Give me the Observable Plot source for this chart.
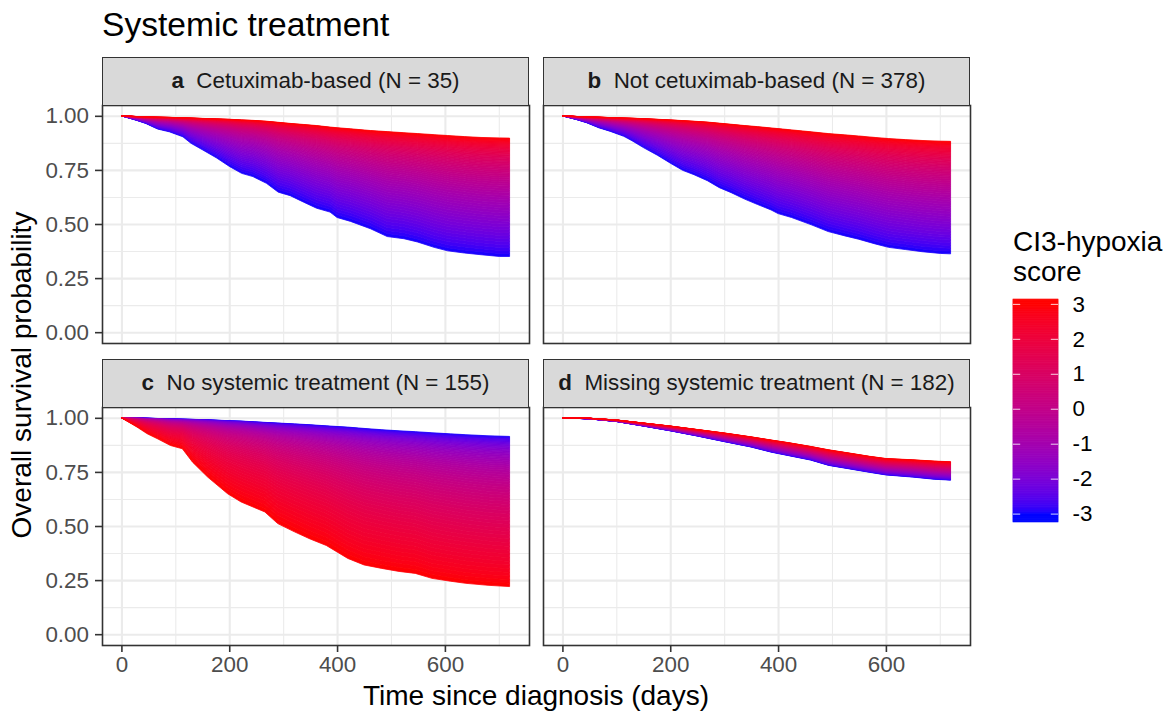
<!DOCTYPE html>
<html>
<head>
<meta charset="utf-8">
<script src="https://cdn.jsdelivr.net/npm/d3@7"></script>
<script src="https://cdn.jsdelivr.net/npm/@observablehq/plot@0.6"></script>
<style>
  body { margin: 0; background: #fff; font-family: "Liberation Sans", Arial, sans-serif; }
  #wrap { position: relative; width: 1170px; height: 716px; overflow: hidden; background: #fff; }
  .abs { position: absolute; white-space: pre; line-height: 1; }
  .strip { position: absolute; box-sizing: border-box; background: #D9D9D9; border: 1.6px solid #333333;
           display: flex; align-items: center; justify-content: center; font-size: 22.4px; color: #1A1A1A; white-space: pre; }
  svg g[aria-label="x-axis tick label"], svg g[aria-label="y-axis tick label"] { fill: #4D4D4D; }
</style>
</head>
<body>
<div id="wrap"></div>
<script>
// ---------------- data ----------------
const panelKeys   = ["a", "b", "c", "d"];
const panelNames  = ["Cetuximab-based", "Not cetuximab-based", "No systemic treatment", "Missing systemic treatment"];
const panelN      = [35, 378, 155, 182];
const panelCol    = [0, 1, 0, 1];
const panelRow    = [0, 0, 1, 1];
// score of the curve forming the upper edge of each fan (the lower edge has the opposite score)
const topScore    = [3, 3, -3, 3];

const aTime  = [0, 27, 45, 67, 89, 114, 129, 151, 176, 201, 223, 244, 269, 291, 313, 338, 362, 387, 400, 425, 462, 493, 524, 549, 580, 605, 636, 667, 701, 720];
const aLower = [1.000, 0.980, 0.965, 0.939, 0.926, 0.903, 0.873, 0.842, 0.806, 0.765, 0.734, 0.719, 0.688, 0.647, 0.631, 0.601, 0.573, 0.555, 0.530, 0.512, 0.478, 0.442, 0.432, 0.417, 0.392, 0.376, 0.366, 0.358, 0.350, 0.350];
const aUpper = [1.000, 0.997, 0.995, 0.994, 0.993, 0.991, 0.990, 0.988, 0.986, 0.984, 0.981, 0.979, 0.975, 0.970, 0.965, 0.960, 0.955, 0.948, 0.945, 0.940, 0.932, 0.927, 0.922, 0.918, 0.913, 0.909, 0.904, 0.900, 0.898, 0.897];

const bTime  = [0, 27, 45, 67, 89, 114, 129, 151, 176, 201, 223, 244, 269, 291, 313, 338, 362, 387, 400, 425, 462, 493, 524, 549, 580, 605, 636, 667, 701, 720];
const bLower = [1.000, 0.982, 0.968, 0.945, 0.928, 0.905, 0.885, 0.852, 0.818, 0.780, 0.748, 0.728, 0.700, 0.668, 0.645, 0.615, 0.590, 0.565, 0.548, 0.530, 0.496, 0.465, 0.445, 0.430, 0.408, 0.392, 0.382, 0.372, 0.364, 0.362];
const bUpper = [1.000, 0.997, 0.995, 0.994, 0.992, 0.990, 0.989, 0.987, 0.984, 0.981, 0.978, 0.975, 0.971, 0.966, 0.961, 0.955, 0.950, 0.944, 0.941, 0.935, 0.926, 0.918, 0.912, 0.907, 0.900, 0.895, 0.890, 0.886, 0.883, 0.882];

const cTime  = [0, 29, 48, 67, 91, 113, 132, 160, 197, 222, 266, 290, 321, 350, 380, 400, 420, 450, 483, 515, 545, 576, 610, 639, 680, 720];
const cLower = [1.000, 0.957, 0.926, 0.903, 0.872, 0.857, 0.795, 0.726, 0.649, 0.611, 0.565, 0.511, 0.473, 0.440, 0.410, 0.380, 0.350, 0.320, 0.304, 0.290, 0.281, 0.258, 0.245, 0.235, 0.226, 0.220];
const cUpper = [1.000, 0.999, 0.998, 0.997, 0.995, 0.994, 0.993, 0.991, 0.987, 0.985, 0.979, 0.976, 0.972, 0.968, 0.963, 0.960, 0.957, 0.951, 0.945, 0.940, 0.936, 0.931, 0.926, 0.922, 0.917, 0.914];

const dTime  = [0, 50, 100, 150, 200, 250, 300, 350, 388, 420, 460, 494, 530, 570, 600, 650, 690, 720];
const dLower = [1.000, 0.995, 0.983, 0.962, 0.940, 0.916, 0.890, 0.865, 0.841, 0.825, 0.805, 0.780, 0.765, 0.748, 0.736, 0.726, 0.716, 0.712];
const dUpper = [1.000, 0.998, 0.990, 0.976, 0.962, 0.946, 0.930, 0.912, 0.897, 0.885, 0.868, 0.852, 0.838, 0.822, 0.812, 0.806, 0.800, 0.797];

const xTicks = [0, 200, 400, 600];
const xMinor = [100, 300, 500, 700];
const yTicks = [0, 0.25, 0.5, 0.75, 1];
const yMinor = [0.125, 0.375, 0.625, 0.875];
const scoreTicks = [3, 2, 1, 0, -1, -2, -3];

const curves = [
  {time: aTime, lower: aLower, upper: aUpper},
  {time: bTime, lower: bLower, upper: bUpper},
  {time: cTime, lower: cLower, upper: cUpper},
  {time: dTime, lower: dLower, upper: dUpper}
];

// ---------------- colour fill of each fan ----------------
// The fan is shaded by score between its two edge curves (proportional-hazards spacing).
const nBands = 60;
function curveAt(lo, hi, loScore, hiScore, s) {
  const w = (s - loScore) / (hiScore - loScore);
  const Hlo = Math.max(-Math.log(lo), 1e-9), Hhi = Math.max(-Math.log(hi), 1e-9);
  return Math.exp(-Math.pow(Hlo, 1 - w) * Math.pow(Hhi, w));
}
const bands = [];
curves.forEach((c, i) => {
  const hiS = topScore[i], loS = -hiS;
  for (let k = 0; k < nBands; k++) {
    const s0 = -3 + 6 * k / nBands, s1 = -3 + 6 * (k + 1) / nBands;
    c.time.forEach((t, j) => {
      bands.push({
        col: panelCol[i], row: panelRow[i], band: i * 1000 + k, t,
        score: (s0 + s1) / 2,
        y1: curveAt(c.lower[j], c.upper[j], loS, hiS, s0),
        y2: curveAt(c.lower[j], c.upper[j], loS, hiS, s1)
      });
    });
  }
});

const colorScale = {type: "linear", domain: [-3, 3], range: ["blue", "red"], interpolate: d3.interpolateLab};
const FONT = '"Liberation Sans", Arial, sans-serif';

// ---------------- main faceted plot ----------------
const W = 980;
const chart = Plot.plot({
  width: W, height: 716,
  marginLeft: 102, marginRight: W - 970, marginTop: 105, marginBottom: 716 - 645,
  x: {domain: [-36, 756]},
  y: {domain: [-0.05, 1.05]},
  fx: {domain: [0, 1], paddingInner: 14 / 441, paddingOuter: 0, axis: null},
  fy: {domain: [0, 1], paddingInner: 64 / 302, paddingOuter: 0, axis: null},
  color: colorScale,
  style: {fontFamily: FONT, fontSize: "22.4px", background: "transparent", overflow: "visible"},
  marks: [
    Plot.gridX(xMinor, {stroke: "#EBEBEB", strokeOpacity: 1, strokeWidth: 1.1}),
    Plot.gridY(yMinor, {stroke: "#EBEBEB", strokeOpacity: 1, strokeWidth: 1.1}),
    Plot.gridX(xTicks, {stroke: "#EBEBEB", strokeOpacity: 1, strokeWidth: 2.1}),
    Plot.gridY(yTicks, {stroke: "#EBEBEB", strokeOpacity: 1, strokeWidth: 2.1}),
    Plot.areaY(bands, {x: "t", y1: "y1", y2: "y2", z: "band", fill: "score", stroke: "score",
                       strokeWidth: 0.8, curve: "linear", fx: "col", fy: "row"}),
    Plot.frame({stroke: "#333333", strokeWidth: 1.6}),
    Plot.axisX(xTicks, {anchor: "bottom", tickSize: 7, tickPadding: 4, stroke: "#333333", strokeWidth: 1.6, label: null}),
    Plot.axisY(yTicks, {anchor: "left", tickSize: 7, tickPadding: 6.5, stroke: "#333333", strokeWidth: 1.6,
                        tickFormat: d3.format(".2f"), label: null})
  ]
});

const wrap = document.getElementById("wrap");
chart.style.position = "absolute";
chart.style.left = "0px";
chart.style.top = "0px";
wrap.appendChild(chart);

// ---------------- title, strips, axis titles ----------------
function addText(txt, left, baseline, size, extra) {
  const d = document.createElement("div");
  d.className = "abs";
  d.textContent = txt;
  d.style.fontSize = size + "px";
  d.style.left = left + "px";
  d.style.top = (baseline - 0.8465 * size) + "px";
  d.style.color = "#000";
  if (extra) Object.assign(d.style, extra);
  wrap.appendChild(d);
  return d;
}
addText("Systemic treatment", 102, 36, 33.6);

const stripLeft = [102, 543], stripTop = [57, 359];
panelKeys.forEach((k, i) => {
  const s = document.createElement("div");
  s.className = "strip";
  s.style.left = stripLeft[panelCol[i]] + "px";
  s.style.top = stripTop[panelRow[i]] + "px";
  s.style.width = "427px";
  s.style.height = "48.5px";
  const b = document.createElement("b");
  b.textContent = k;
  s.appendChild(b);
  s.appendChild(document.createTextNode("  " + panelNames[i] + " (N = " + panelN[i] + ")"));
  wrap.appendChild(s);
});

// x axis title
addText("Time since diagnosis (days)", 0, 706, 28, {width: "1072px", textAlign: "center"});
// y axis title (rotated)
const yt = document.createElement("div");
yt.className = "abs";
yt.textContent = "Overall survival probability";
Object.assign(yt.style, {fontSize: "28px", width: "600px", textAlign: "center", left: (22 - 300) + "px",
  top: (375 - 14) + "px", height: "28px", lineHeight: "28px", transform: "rotate(-90deg)", transformOrigin: "50% 50%", color: "#000"});
wrap.appendChild(yt);

// ---------------- colour legend ----------------
addText("CI3-hypoxia", 1013, 252, 28);
addText("score", 1013, 282, 28);

const rampStep = 0.02;
const ramp = d3.range(-3.24, 3.14, rampStep);
const legend = Plot.plot({
  width: 157, height: 223,
  marginLeft: 0, marginRight: 112, marginTop: 0, marginBottom: 0,
  x: {domain: [0, 1], axis: null},
  y: {domain: [-3.24, 3.14], axis: null},
  color: colorScale,
  style: {fontFamily: FONT, fontSize: "22.4px", background: "transparent", overflow: "visible"},
  marks: [
    Plot.rect(ramp, {x1: 0, x2: 1, y1: d => d, y2: d => Math.min(d + rampStep, 3.14), fill: d => d + rampStep / 2, stroke: d => d + rampStep / 2, strokeWidth: 0.6}),
    Plot.ruleY(scoreTicks, {x1: 0, x2: 0.16, stroke: "white", strokeOpacity: 0.75, strokeWidth: 1.1}),
    Plot.ruleY(scoreTicks, {x1: 0.84, x2: 1, stroke: "white", strokeOpacity: 0.75, strokeWidth: 1.1}),
    Plot.text(scoreTicks, {x: 1, y: d => d, dx: 14, text: d => String(d), textAnchor: "start", fill: "#000"})
  ]
});
legend.style.position = "absolute";
legend.style.left = "1013px";
legend.style.top = "299px";
wrap.appendChild(legend);
</script>
</body>
</html>
